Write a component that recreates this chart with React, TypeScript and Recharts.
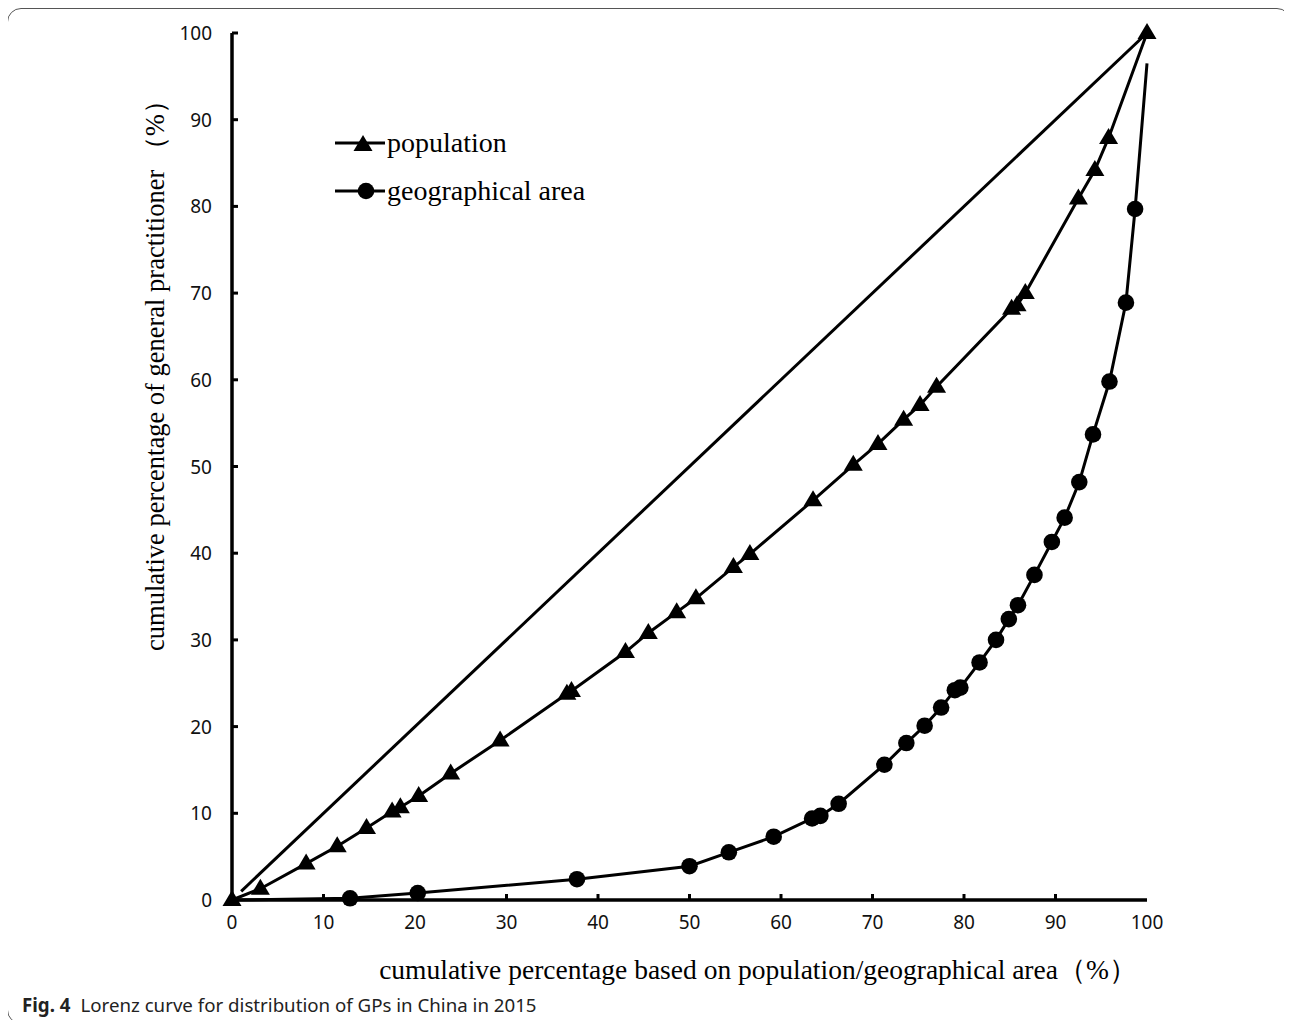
import React from 'react';
import { LineChart, Line, XAxis, YAxis, Legend } from 'recharts';

const axisTicks = [0, 10, 20, 30, 40, 50, 60, 70, 80, 90, 100];

const equalityLine = [
  { x: 1, y: 1 },
  { x: 100, y: 100 },
];

const populationCurve = [
  { x: 0, y: 0 },
  { x: 3.1, y: 1.3 },
  { x: 8.1, y: 4.2 },
  { x: 11.5, y: 6.2 },
  { x: 14.7, y: 8.3 },
  { x: 17.5, y: 10.2 },
  { x: 18.4, y: 10.7 },
  { x: 20.4, y: 12.0 },
  { x: 23.9, y: 14.6 },
  { x: 29.3, y: 18.4 },
  { x: 36.6, y: 23.8 },
  { x: 37.1, y: 24.1 },
  { x: 43.0, y: 28.6 },
  { x: 45.5, y: 30.8 },
  { x: 48.6, y: 33.2 },
  { x: 50.7, y: 34.8 },
  { x: 54.8, y: 38.4 },
  { x: 56.6, y: 39.9 },
  { x: 63.5, y: 46.1 },
  { x: 67.9, y: 50.2 },
  { x: 70.6, y: 52.6 },
  { x: 73.4, y: 55.4 },
  { x: 75.2, y: 57.1 },
  { x: 77.0, y: 59.2 },
  { x: 85.2, y: 68.2 },
  { x: 85.8, y: 68.6 },
  { x: 86.7, y: 70.0 },
  { x: 92.5, y: 80.9 },
  { x: 94.3, y: 84.2 },
  { x: 95.8, y: 87.9 },
  { x: 100, y: 100 },
];

const areaCurve = [
  { x: 0, y: 0 },
  { x: 12.9, y: 0.2 },
  { x: 20.3, y: 0.8 },
  { x: 37.7, y: 2.4 },
  { x: 50.0, y: 3.9 },
  { x: 54.3, y: 5.5 },
  { x: 59.2, y: 7.3 },
  { x: 63.4, y: 9.4 },
  { x: 64.3, y: 9.7 },
  { x: 66.3, y: 11.1 },
  { x: 71.3, y: 15.6 },
  { x: 73.7, y: 18.1 },
  { x: 75.7, y: 20.1 },
  { x: 77.5, y: 22.2 },
  { x: 79.0, y: 24.2 },
  { x: 79.6, y: 24.5 },
  { x: 81.7, y: 27.4 },
  { x: 83.5, y: 30.0 },
  { x: 84.9, y: 32.4 },
  { x: 85.9, y: 34.0 },
  { x: 87.7, y: 37.5 },
  { x: 89.6, y: 41.3 },
  { x: 91.0, y: 44.1 },
  { x: 92.6, y: 48.2 },
  { x: 94.1, y: 53.7 },
  { x: 95.9, y: 59.8 },
  { x: 97.7, y: 68.9 },
  { x: 98.7, y: 79.7 },
  { x: 100, y: 96.5 },
];

const seriesNames = ['population', 'geographical area'];

const xTitle = 'cumulative percentage based on population/geographical area（%）';
const yTitle = 'cumulative percentage of general practitioner （%）';
const captionBold = 'Fig. 4';
const captionText = 'Lorenz curve for distribution of GPs in China in 2015';

const SERIF = '"Liberation Serif", "Times New Roman", serif';
const SANS = '"Noto Sans", "DejaVu Sans", sans-serif';

const triPoints = (cx: number, cy: number) =>
  `${cx},${cy - 10} ${cx - 9.5},${cy + 6} ${cx + 9.5},${cy + 6}`;

const TriangleDot = (props: any) => {
  const { cx, cy, index } = props;
  if (cx == null || cy == null) return <g key={`t${index}`} />;
  return <polygon key={`t${index}`} points={triPoints(cx, cy)} fill="#000" />;
};

const CircleDot = (props: any) => {
  const { cx, cy, index } = props;
  if (cx == null || cy == null || index === 0 || index === areaCurve.length - 1)
    return <g key={`c${index}`} />;
  return <circle key={`c${index}`} cx={cx} cy={cy} r={8.3} fill="#000" />;
};

const XTick = (props: any) => {
  const { x, y, payload } = props;
  const v = payload.value;
  return (
    <g>
      {v !== 0 && v !== 100 && (
        <line x1={x} y1={y} x2={x} y2={y - 6} stroke="#000" strokeWidth={3} />
      )}
      <text
        x={x}
        y={y + 22}
        textAnchor="middle"
        dominantBaseline="central"
        fontFamily={SANS}
        fontSize={19}
        fill="#111"
      >
        {v}
      </text>
    </g>
  );
};

const YTick = (props: any) => {
  const { x, y, payload } = props;
  const v = payload.value;
  return (
    <g>
      {v !== 0 && (
        <line x1={x} y1={y} x2={x + 6} y2={y} stroke="#000" strokeWidth={3} />
      )}
      <text
        x={x - 20}
        y={y}
        textAnchor="end"
        dominantBaseline="central"
        fontFamily={SANS}
        fontSize={19}
        fill="#111"
      >
        {v}
      </text>
    </g>
  );
};

const LegendContent = () => (
  <div style={{ fontFamily: SERIF, fontSize: 28, color: '#000' }}>
    {seriesNames.map((name, i) => (
      <div
        key={name}
        style={{ display: 'flex', alignItems: 'center', height: 48, whiteSpace: 'nowrap' }}
      >
        <svg width={52} height={24} style={{ display: 'block' }}>
          <line x1={0} y1={12} x2={50} y2={12} stroke="#000" strokeWidth={3} />
          {i === 0 ? (
            <polygon points={triPoints(28, 14)} fill="#000" />
          ) : (
            <circle cx={31} cy={12} r={8.3} fill="#000" />
          )}
        </svg>
        <span style={{ lineHeight: '48px', marginLeft: 0 }}>{name}</span>
      </div>
    ))}
  </div>
);

export default function App() {
  return (
    <div style={{ position: 'relative', width: 1276, height: 1012 }}>
      <div
        style={{
          position: 'absolute',
          left: -1,
          top: 0,
          width: 1284,
          height: 1016,
          border: '1.5px solid #555',
          borderRadius: 14,
          boxSizing: 'border-box',
        }}
      />
      <div style={{ position: 'absolute', left: 0, top: 0 }}>
        <LineChart
          width={1276}
          height={1000}
          margin={{ top: 25, right: 137, bottom: 68, left: 164 }}
        >
          <XAxis
            type="number"
            dataKey="x"
            domain={[0, 100]}
            ticks={axisTicks}
            interval={0}
            height={40}
            tickSize={0}
            tickMargin={0}
            tickLine={false}
            axisLine={{ stroke: '#000', strokeWidth: 3.5 }}
            tick={<XTick />}
            allowDuplicatedCategory={false}
          />
          <YAxis
            type="number"
            dataKey="y"
            domain={[0, 100]}
            ticks={axisTicks}
            interval={0}
            width={60}
            tickSize={0}
            tickMargin={0}
            tickLine={false}
            axisLine={{ stroke: '#000', strokeWidth: 3.5 }}
            tick={<YTick />}
          />
          <Legend
            layout="vertical"
            align="center"
            verticalAlign="middle"
            content={<LegendContent />}
            wrapperStyle={{ left: 327, top: 111, width: 300, height: 96 }}
          />
          <Line
            data={equalityLine}
            dataKey="y"
            name="equality"
            type="linear"
            stroke="#000"
            strokeWidth={3}
            dot={false}
            activeDot={false}
            legendType="none"
            isAnimationActive={false}
          />
          <Line
            data={populationCurve}
            dataKey="y"
            name={seriesNames[0]}
            type="linear"
            stroke="#000"
            strokeWidth={3}
            dot={<TriangleDot />}
            activeDot={false}
            isAnimationActive={false}
          />
          <Line
            data={areaCurve}
            dataKey="y"
            name={seriesNames[1]}
            type="linear"
            stroke="#000"
            strokeWidth={3}
            dot={<CircleDot />}
            activeDot={false}
            isAnimationActive={false}
          />
        </LineChart>
      </div>
      <div
        style={{
          position: 'absolute',
          left: 0,
          width: 1500,
          top: 945,
          textAlign: 'center',
          fontFamily: SERIF,
          fontSize: 27.5,
          color: '#000',
          whiteSpace: 'nowrap',
          lineHeight: '34px',
        }}
      >
        {xTitle}
      </div>
      <div
        style={{
          position: 'absolute',
          left: 147 - 300,
          top: 361 - 17,
          width: 600,
          height: 34,
          textAlign: 'center',
          fontFamily: SERIF,
          fontSize: 26.5,
          color: '#000',
          whiteSpace: 'nowrap',
          lineHeight: '34px',
          transform: 'rotate(-90deg)',
        }}
      >
        {yTitle}
      </div>
      <div
        style={{
          position: 'absolute',
          left: 14,
          top: 984,
          fontFamily: SANS,
          fontSize: 18.7,
          color: '#222',
          whiteSpace: 'nowrap',
          lineHeight: '26px',
        }}
      >
        <span style={{ fontWeight: 700 }}>{captionBold}</span>
        <span style={{ marginLeft: 10 }}>{captionText}</span>
      </div>
    </div>
  );
}
